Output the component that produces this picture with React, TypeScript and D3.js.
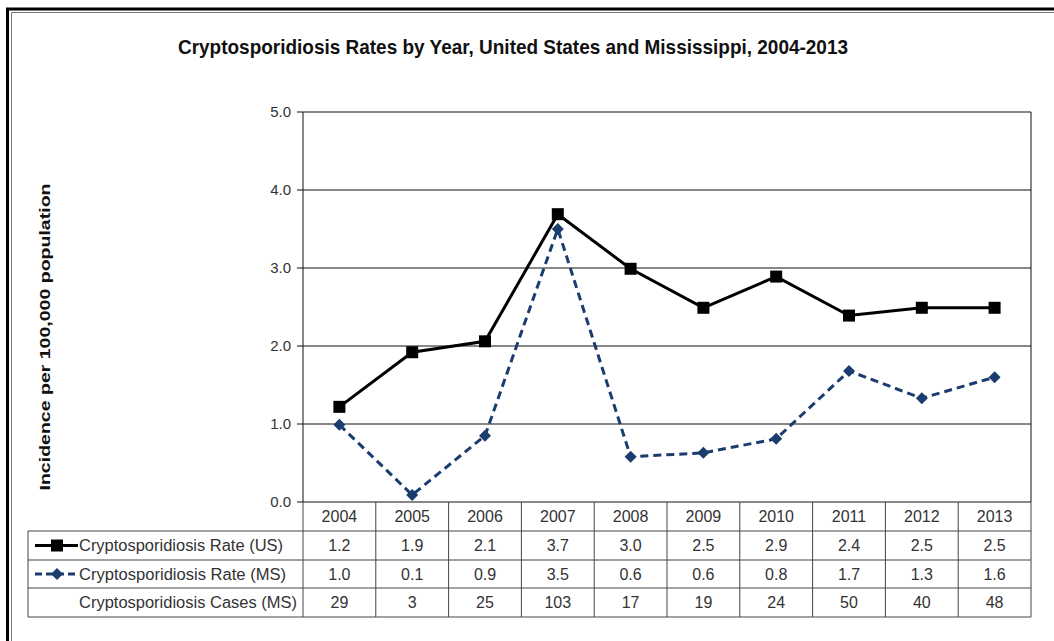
import React from "react";
import * as d3 from "d3";

const years = ["2004", "2005", "2006", "2007", "2008", "2009", "2010", "2011", "2012", "2013"];
const usRate = [1.22, 1.92, 2.06, 3.69, 2.99, 2.49, 2.89, 2.39, 2.49, 2.49];
const msRate = [0.99, 0.09, 0.85, 3.5, 0.58, 0.63, 0.81, 1.68, 1.33, 1.6];
const usRateLabels = ["1.2", "1.9", "2.1", "3.7", "3.0", "2.5", "2.9", "2.4", "2.5", "2.5"];
const msRateLabels = ["1.0", "0.1", "0.9", "3.5", "0.6", "0.6", "0.8", "1.7", "1.3", "1.6"];
const msCases = ["29", "3", "25", "103", "17", "19", "24", "50", "40", "48"];
const yTicks = [0, 1, 2, 3, 4, 5];
const rowNames = ["Cryptosporidiosis Rate (US)", "Cryptosporidiosis Rate (MS)", "Cryptosporidiosis Cases (MS)"];

const W = 1054, H = 641;
const plotL = 303, plotR = 1031, plotT = 112, plotB = 502;
const rowTops = [502, 531, 560, 588, 617];
const tableL = 28;
const navy = "#1B3C6E";
const font = "'Liberation Sans', Arial, sans-serif";
const narrow = "'Liberation Sans Narrow', 'Liberation Sans', Arial, sans-serif";

export default function App() {
  const x = d3.scaleBand<string>().domain(years).range([plotL, plotR]);
  const y = d3.scaleLinear().domain([0, 5]).range([plotB, plotT]);
  const cx = (yr: string) => (x(yr) as number) + x.bandwidth() / 2;
  const line = d3.line<number>().x((_, i) => cx(years[i])).y((v) => y(v));
  const rowLabelsData = [usRateLabels, msRateLabels, msCases];
  const rowMid = (r: number) => (rowTops[r] + rowTops[r + 1]) / 2;

  return (
    <svg width={W} height={H} style={{ position: "absolute", left: 0, top: 0, background: "#fff" }}>
      {/* outer frame */}
      <path d={`M7.5,${H} V9 H${W}`} fill="none" stroke="#000" strokeWidth={3} />
      <path d={`M11.5,${H} V12.5 H${W}`} fill="none" stroke="#777" strokeWidth={1} />

      {/* title */}
      <text x={513} y={54} textAnchor="middle" fontFamily={narrow} fontWeight="bold" fontSize={21}
        textLength={670} lengthAdjust="spacingAndGlyphs" fill="#111">
        Cryptosporidiosis Rates by Year, United States and Mississippi, 2004-2013
      </text>

      {/* y axis label */}
      <text transform={`translate(50,337) rotate(-90)`} textAnchor="middle" fontFamily={font} fontWeight="bold"
        fontSize={15} textLength={307} lengthAdjust="spacingAndGlyphs" fill="#111">
        Incidence per 100,000 population
      </text>

      {/* gridlines + ticks */}
      {yTicks.map((t) => (
        <g key={t}>
          <line x1={plotL} x2={plotR} y1={y(t)} y2={y(t)} stroke="#111" strokeWidth={1} />
          <line x1={plotL - 6} x2={plotL} y1={y(t)} y2={y(t)} stroke="#111" strokeWidth={1} />
          <text x={291} y={y(t)} dy="0.35em" textAnchor="end" fontFamily={font} fontSize={15} fill="#333">
            {t.toFixed(1)}
          </text>
        </g>
      ))}
      <line x1={plotL} x2={plotL} y1={plotT} y2={plotB} stroke="#111" />
      <line x1={plotR} x2={plotR} y1={plotT} y2={plotB} stroke="#111" />

      {/* series */}
      <path d={line(usRate) as string} fill="none" stroke="#000" strokeWidth={3} />
      <path d={line(msRate) as string} fill="none" stroke={navy} strokeWidth={3} strokeDasharray="8,5" />
      {usRate.map((v, i) => (
        <rect key={"u" + i} x={cx(years[i]) - 6} y={y(v) - 6} width={12} height={12} fill="#000" />
      ))}
      {msRate.map((v, i) => (
        <path key={"m" + i} d={`M${cx(years[i])},${y(v) - 6} l6,6 l-6,6 l-6,-6 z`} fill={navy} />
      ))}

      {/* data table */}
      <g stroke="#444" strokeWidth={1} fill="none">
        <line x1={plotL} x2={plotL} y1={plotB} y2={rowTops[4]} />
        {years.map((yr) => (
          <line key={yr} x1={(x(yr) as number) + x.bandwidth()} x2={(x(yr) as number) + x.bandwidth()} y1={plotB} y2={rowTops[4]} />
        ))}
        {[1, 2, 3, 4].map((r) => (
          <line key={r} x1={tableL} x2={plotR} y1={rowTops[r]} y2={rowTops[r]} />
        ))}
        <line x1={tableL} x2={tableL} y1={rowTops[1]} y2={rowTops[4]} />
      </g>
      {years.map((yr) => (
        <text key={yr} x={cx(yr)} y={rowMid(0)} dy="0.35em" textAnchor="middle" fontFamily={font} fontSize={16} fill="#333">
          {yr}
        </text>
      ))}
      {rowLabelsData.map((arr, r) =>
        arr.map((s, i) => (
          <text key={r + "-" + i} x={cx(years[i])} y={rowMid(r + 1)} dy="0.35em" textAnchor="middle" fontFamily={font}
            fontSize={16} fill="#333">
            {s}
          </text>
        ))
      )}
      {rowNames.map((n, r) => (
        <text key={n} x={79} y={rowMid(r + 1)} dy="0.35em" fontFamily={font} fontSize={16} fill="#333"
          textLength={r === 2 ? 218 : r === 1 ? 207 : 204} lengthAdjust="spacingAndGlyphs">
          {n}
        </text>
      ))}
      {/* legend keys */}
      <line x1={35} x2={78} y1={rowMid(1)} y2={rowMid(1)} stroke="#000" strokeWidth={3} />
      <rect x={51} y={rowMid(1) - 6} width={12} height={12} fill="#000" />
      <line x1={35} x2={78} y1={rowMid(2)} y2={rowMid(2)} stroke={navy} strokeWidth={3} strokeDasharray="7,4" />
      <path d={`M57,${rowMid(2) - 6} l6,6 l-6,6 l-6,-6 z`} fill={navy} />
    </svg>
  );
}
